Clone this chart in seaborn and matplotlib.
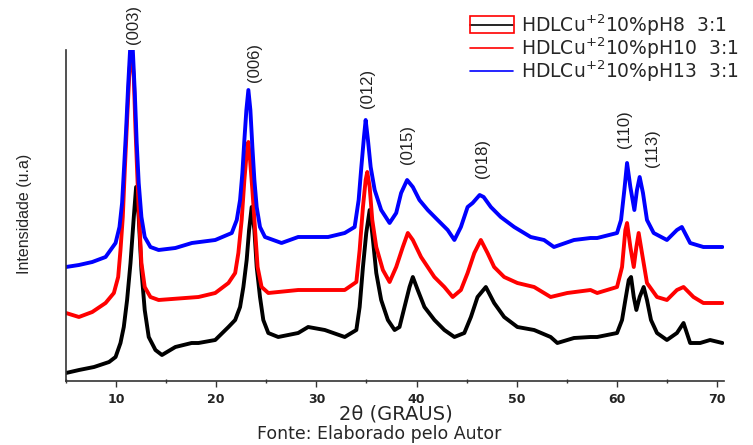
import matplotlib
matplotlib.use("Agg")
import matplotlib.pyplot as plt
from matplotlib.patches import Rectangle
from matplotlib.ticker import MultipleLocator
import seaborn as sns
import pandas as pd

# ---- data (2theta in degrees, intensity in arbitrary units, offset curves) ----
x_ph8 = [5.0, 6.3, 7.8, 9.3, 9.95, 10.44, 10.77, 11.10, 11.44, 11.77, 12.0, 12.26,
         12.53, 12.86, 13.26, 13.93, 14.58, 15.92, 17.54, 18.23, 19.90, 21.22, 21.89,
         22.38, 22.71, 23.04, 23.28, 23.54, 23.81, 24.04, 24.37, 24.70, 25.20, 26.19,
         28.18, 29.18, 30.84, 32.83, 33.99, 34.32, 34.65, 34.98, 35.32, 35.65, 35.98,
         36.47, 37.14, 37.81, 38.30, 38.80, 39.30, 39.63, 40.12, 40.79, 41.79, 42.78,
         43.78, 44.77, 45.43, 46.09, 46.92, 47.75, 48.75, 50.07, 51.74, 53.39, 54.06,
         55.72, 57.37, 58.04, 60.02, 60.52, 60.85, 61.19, 61.42, 61.69, 61.95, 62.28,
         62.68, 63.01, 63.41, 64.01, 65.0, 66.0, 66.66, 67.32, 68.32, 69.31, 70.54]
y_ph8 = [8, 11, 14, 19, 24, 38, 54, 81, 118, 164, 194, 164,
         111, 71, 44, 31, 26, 34, 38, 38, 41, 54, 61,
         74, 94, 121, 151, 174, 151, 114, 84, 61, 48, 44,
         48, 54, 51, 44, 51, 74, 114, 148, 171, 141, 108,
         81, 61, 51, 54, 74, 94, 104, 91, 74, 61, 51,
         44, 48, 64, 84, 94, 78, 64, 54, 51, 44, 38,
         43, 44, 44, 48, 61, 81, 101, 104, 84, 71, 84,
         94, 81, 61, 48, 41, 48, 58, 38, 38, 41, 38]

x_ph10 = [5.0, 6.29, 7.62, 8.95, 9.78, 10.21, 10.44, 10.67, 10.87, 11.10, 11.34, 11.54,
          11.77, 11.93, 12.10, 12.26, 12.53, 12.86, 13.43, 14.25, 18.23, 19.90, 21.22,
          21.89, 22.21, 22.54, 22.81, 23.04, 23.21, 23.38, 23.61, 23.88, 24.13, 24.53,
          25.20, 28.18, 31.17, 32.83, 33.99, 34.32, 34.65, 34.92, 35.08, 35.32, 35.58,
          35.98, 36.64, 37.31, 37.97, 38.63, 39.13, 39.63, 40.45, 41.78, 42.78, 43.61,
          44.43, 45.10, 45.77, 46.42, 47.09, 47.75, 48.75, 50.07, 51.74, 53.39, 55.05,
          57.37, 58.04, 60.02, 60.52, 60.85, 61.02, 61.35, 61.69, 61.95, 62.18, 62.51,
          63.01, 64.01, 65.0, 66.0, 66.66, 67.65, 68.64, 70.54]
y_ph10 = [68, 64, 69, 78, 88, 104, 131, 164, 211, 261, 311, 330,
          304, 254, 211, 171, 118, 94, 84, 81, 84, 88, 98,
          108, 128, 161, 201, 228, 239, 221, 191, 151, 114, 94,
          88, 91, 91, 91, 99, 131, 174, 201, 209, 194, 161,
          134, 111, 99, 114, 134, 148, 141, 124, 104, 94, 84,
          91, 108, 128, 141, 128, 114, 104, 98, 94, 84, 88,
          91, 88, 94, 114, 151, 158, 134, 114, 134, 148, 128,
          98, 84, 81, 91, 94, 84, 78, 78]

x_ph13 = [5.0, 6.29, 7.62, 8.95, 9.95, 10.34, 10.60, 10.80, 11.0, 11.20, 11.40, 11.67,
          11.87, 12.06, 12.26, 12.53, 12.86, 13.43, 14.25, 15.92, 17.57, 19.90, 21.55,
          22.05, 22.38, 22.61, 22.81, 23.01, 23.21, 23.41, 23.61, 23.81, 24.04, 24.37,
          24.87, 26.52, 28.18, 31.17, 32.83, 33.82, 34.22, 34.49, 34.75, 34.92, 35.15,
          35.42, 35.82, 36.47, 37.31, 37.97, 38.46, 39.06, 39.63, 40.29, 41.12, 42.11,
          43.11, 43.78, 44.43, 45.10, 45.6, 46.3, 46.7, 47.42, 48.41, 49.75, 51.40,
          52.73, 53.72, 55.72, 57.37, 58.04, 60.02, 60.42, 60.75, 61.02, 61.35, 61.75,
          62.01, 62.28, 62.61, 63.01, 63.68, 65.0, 66.0, 66.49, 67.32, 68.64, 70.54]
y_ph13 = [114, 116, 119, 124, 138, 154, 178, 214, 251, 294, 331, 331,
          288, 238, 198, 164, 144, 134, 131, 133, 138, 141, 148,
          161, 181, 208, 241, 271, 291, 271, 234, 201, 174, 154,
          144, 138, 144, 144, 148, 154, 181, 214, 244, 261, 241,
          214, 191, 171, 158, 168, 188, 201, 194, 181, 171, 161,
          151, 141, 154, 174, 178, 186, 184, 174, 164, 154, 144,
          141, 134, 141, 143, 143, 148, 161, 191, 218, 194, 171,
          191, 204, 188, 161, 148, 141, 151, 154, 138, 134, 134]

series_labels = [r"HDLCu$^{+2}$10%pH8  3:1",
                 r"HDLCu$^{+2}$10%pH10  3:1",
                 r"HDLCu$^{+2}$10%pH13  3:1"]
series_colors = ["#000000", "#ff0000", "#0000ff"]

peak_names = ["(003)", "(006)", "(012)", "(015)", "(018)", "(110)", "(113)"]
peak_x = [11.7, 23.8, 35.15, 39.1, 46.6, 60.8, 63.6]
peak_y = [356, 319, 293, 236, 222, 252, 233]

x_ticks = [10, 20, 30, 40, 50, 60, 70]

# ---- figure ----
sns.set_style("white")
plt.rcParams['font.family'] = ['DejaVu Sans']

fig = plt.figure(figsize=(7.53, 4.45), dpi=100)
ax = fig.add_axes([66 / 753, 1 - 381 / 445, (724 - 66) / 753, (381 - 50) / 445])

for xs, ys, lab, col in zip([x_ph8, x_ph10, x_ph13], [y_ph8, y_ph10, y_ph13],
                            series_labels, series_colors):
    df = pd.DataFrame({"x": xs, "y": ys})
    sns.lineplot(data=df, x="x", y="y", ax=ax, color=col, linewidth=2.8,
                 label=lab, sort=False, estimator=None)

ax.set_xlim(5, 70.7)
ax.set_ylim(0, 331)
ax.set_yticks([])
ax.set_xticks(x_ticks)
ax.xaxis.set_minor_locator(MultipleLocator(5))
ax.tick_params(axis="x", which="major", direction="out", length=4.5, width=1,
               color="#333333", labelsize=9, pad=4)
ax.tick_params(axis="x", which="minor", direction="inout", length=3.5, width=1,
               color="#333333")
ax.xaxis.set_ticks_position("bottom")
for lbl in ax.get_xticklabels():
    lbl.set_fontweight("bold")
    lbl.set_color("#222222")

for s in ["top", "right"]:
    ax.spines[s].set_visible(False)
for s in ["left", "bottom"]:
    ax.spines[s].set_color("#333333")
    ax.spines[s].set_linewidth(1.2)

ax.set_xlabel("")
ax.set_ylabel("")
fig.text(25 / 753, 1 - 214 / 445, "Intensidade (u.a)", rotation=90, ha="center",
         va="center", fontsize=11.5, family=["Liberation Sans", "DejaVu Sans"])
fig.text(396 / 753, 1 - 414 / 445, "2θ (GRAUS)", ha="center", va="center",
         fontsize=14)
fig.text(379 / 753, 1 - 434 / 445, "Fonte: Elaborado pelo Autor", ha="center",
         va="center", fontsize=12.5)

for name, px, py in zip(peak_names, peak_x, peak_y):
    ax.text(px, py, name, rotation=90, ha="center", va="center", fontsize=12,
            family=["Liberation Sans", "DejaVu Sans"], color="#222222",
            clip_on=False)

leg = ax.legend(loc="upper left", bbox_to_anchor=(470 / 753, 1 - 12 / 445),
                bbox_transform=fig.transFigure, frameon=False, fontsize=13.5,
                handlelength=2.3, handletextpad=0.4, labelspacing=-0.13,
                borderpad=0, borderaxespad=0)
for h in leg.legend_handles:
    h.set_linewidth(1.2)

fig.add_artist(Rectangle((470, 445 - 33), 44, 17, transform=None, fill=False,
                         edgecolor="#ff0000", linewidth=1.2))

fig.savefig("out.png", dpi=100)
